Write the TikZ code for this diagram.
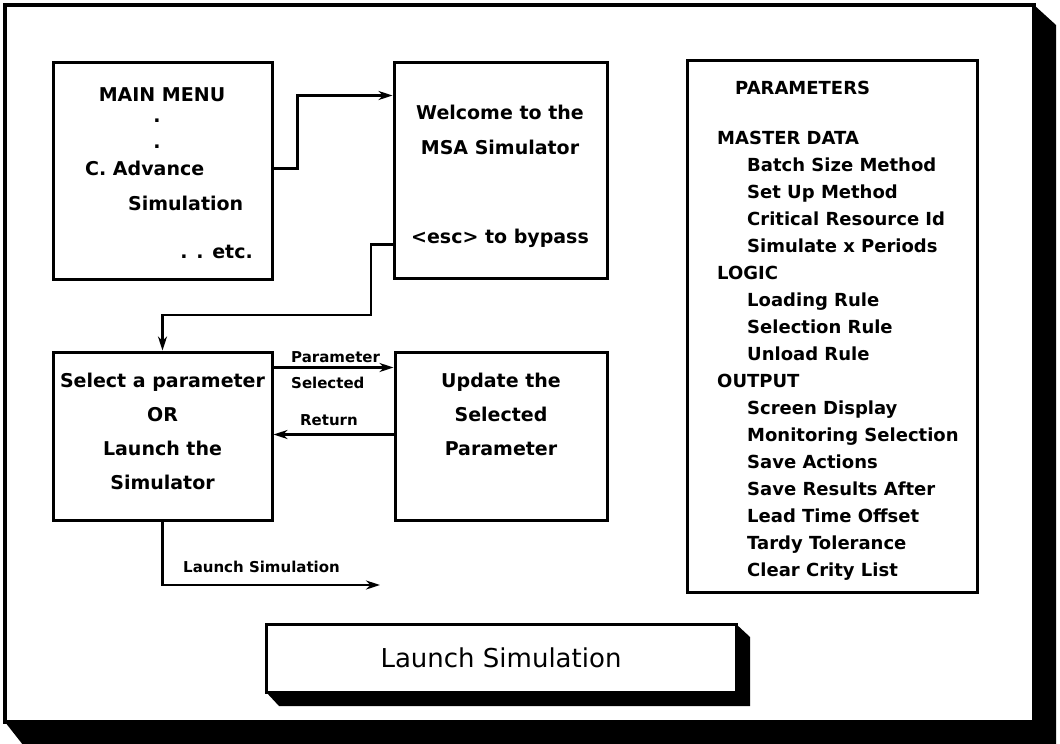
\documentclass[tikz,border=0pt]{standalone}
\usepackage{fontspec}
\setmainfont{DejaVu Sans}
\usetikzlibrary{arrows.meta, positioning}

\begin{document}
\begin{tikzpicture}[x=1pt, y=-1pt]
	\tikzstyle{panel} = [rectangle, draw=black, line width=3pt, fill=white, inner sep=0pt]
	\tikzstyle{boxtext} = [font=\bfseries\fontsize{19}{34}\selectfont, align=center, inner sep=0pt]
	\tikzstyle{listtext} = [font=\bfseries\fontsize{18}{27}\selectfont, align=left, inner sep=0pt]
	\tikzstyle{flowtext} = [font=\bfseries\fontsize{15}{18}\selectfont, inner sep=0pt]
	\tikzstyle{arrow} = [line width=2.3pt, -{Stealth[length=14pt, width=9pt]}]
	\useasboundingbox (0,0) rectangle (1060,744);
	% outer frame with its shadow
	\fill (1034,5) -- (1056,25) -- (1056,750) -- (27,750) -- (5,722) -- (1034,722) -- cycle;
	\node (frame) [panel, line width=3.5pt, minimum width=1029pt, minimum height=717pt] at (519.5,363.5) {};
	% boxes
	\node (mainmenu) [panel, minimum width=219pt, minimum height=217pt] at (162.5,170.5) {};
	\node (welcome) [panel, minimum width=213pt, minimum height=216pt] at (500.5,170) {};
	\node (select) [panel, minimum width=219pt, minimum height=168pt] at (162.5,436) {};
	\node (update) [panel, minimum width=212pt, minimum height=168pt] at (501,436) {};
	\node (params) [panel, minimum width=290pt, minimum height=532pt] at (832,326) {};
	\fill (736,624) -- (750,637) -- (750,706) -- (279,706) -- (266,692) -- (736,692) -- cycle;
	\node (launch) [panel, minimum width=470pt, minimum height=68pt,
		font=\fontsize{26}{30}\selectfont] at (501,658) {Launch Simulation};
	% texts in the boxes
	\node (menutitle) [boxtext] at (162,95) {MAIN MENU};
	\node (menudot1) [boxtext] at (157,121) {.};
	\node (menudot2) [boxtext] at (157,147) {.};
	\node (menuitem) [boxtext, anchor=west] at (85,168) {C. Advance};
	\node (menuitem2) [boxtext, anchor=west] at (128,203) {Simulation};
	\node (menuetc) [boxtext, anchor=east] at (253,252) {. . etc.};
	\node (welcome1) [boxtext] at (500,112) {Welcome to the};
	\node (welcome2) [boxtext] at (500,147) {MSA Simulator};
	\node (welcome3) [boxtext] at (500,238) {<esc> to bypass};
	\node (selecttext) [boxtext] at (162.5,431.5) {Select a parameter\\OR\\Launch the\\Simulator};
	\node (updatetext) [boxtext] at (501,414) {Update the\\Selected\\Parameter};
	\node (paramtitle) [listtext, anchor=west] at (735,88) {PARAMETERS};
	\node (paramlist) [listtext, anchor=north west] at (717,131) {MASTER DATA\\
		\hspace*{30pt}Batch Size Method\\
		\hspace*{30pt}Set Up Method\\
		\hspace*{30pt}Critical Resource Id\\
		\hspace*{30pt}Simulate x Periods\\
		LOGIC\\
		\hspace*{30pt}Loading Rule\\
		\hspace*{30pt}Selection Rule\\
		\hspace*{30pt}Unload Rule\\
		OUTPUT\\
		\hspace*{30pt}Screen Display\\
		\hspace*{30pt}Monitoring Selection\\
		\hspace*{30pt}Save Actions\\
		\hspace*{30pt}Save Results After\\
		\hspace*{30pt}Lead Time Offset\\
		\hspace*{30pt}Tardy Tolerance\\
		\hspace*{30pt}Clear Crity List};
	% connectors
	\coordinate (esccorner) at (371,315);
	\coordinate (launchend) at (380,585);
	\draw [arrow] ([yshift=2pt]mainmenu.east) -- ++(24,0) |- ([yshift=-35pt]welcome.north west);
	\draw [arrow] ([yshift=35pt]welcome.south west) -| (esccorner) -| (select.north);
	\draw [arrow] ([yshift=-17pt]select.north east) -- ([yshift=-17pt]update.north west);
	\draw [arrow] ([yshift=-84pt]update.north west) -- ([yshift=-84pt]select.north east);
	\draw [arrow] (select.south) |- (launchend);
	\node (selectedlabel1) [flowtext, anchor=west] at (291,357) {Parameter};
	\node (selectedlabel2) [flowtext, anchor=west] at (291,383) {Selected};
	\node (returnlabel) [flowtext] at (329,420) {Return};
	\node (launchlabel) [flowtext, anchor=west] at (183,567) {Launch Simulation};
\end{tikzpicture}
\end{document}
